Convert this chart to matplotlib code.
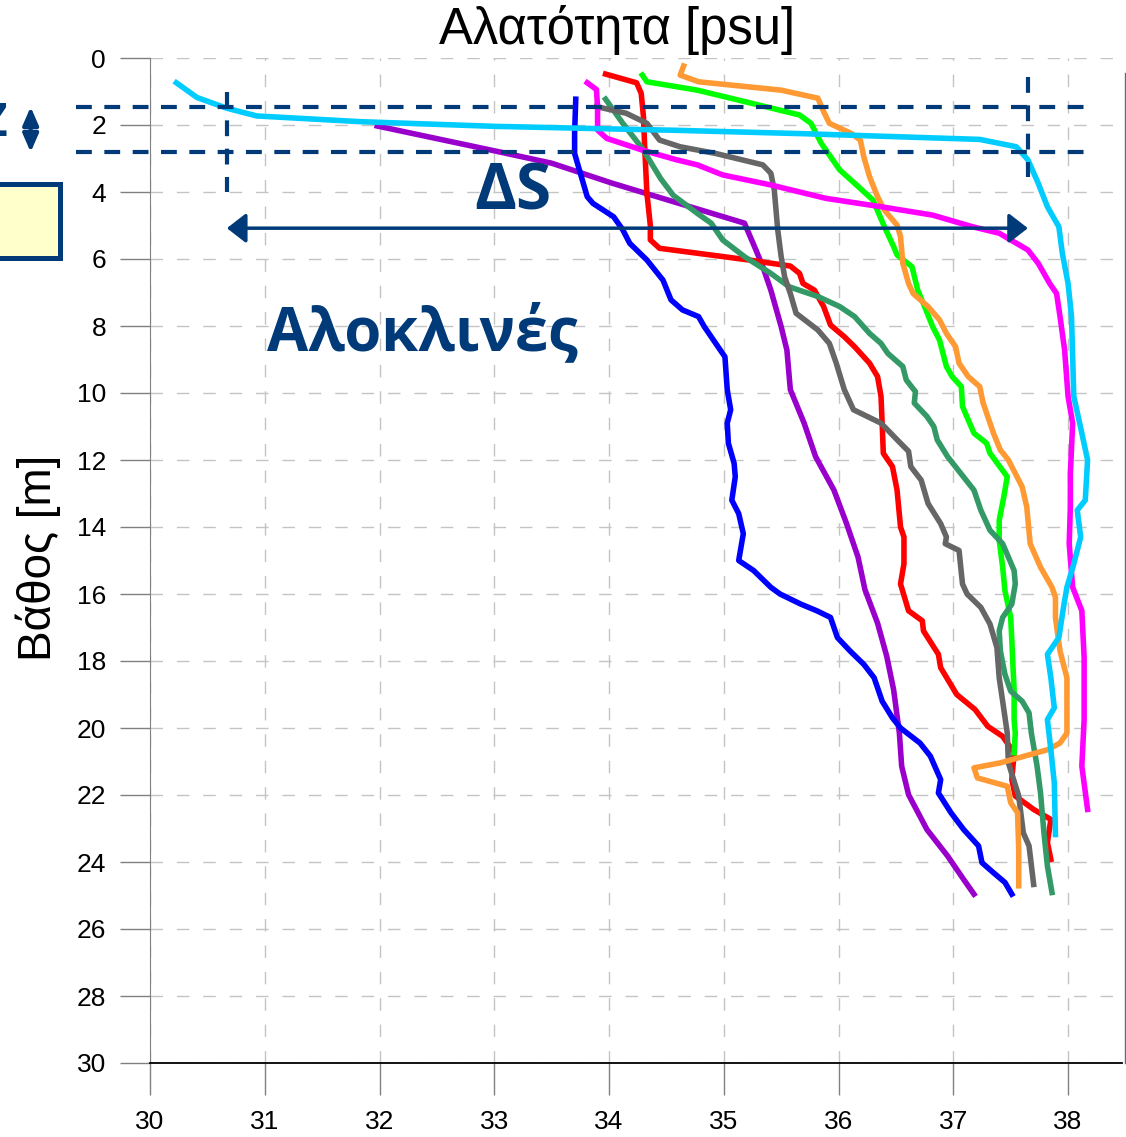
import matplotlib
matplotlib.use('Agg')
import matplotlib.pyplot as plt
from matplotlib.patches import Rectangle

plt.rcParams['font.family'] = ['Liberation Sans', 'DejaVu Sans']

# salinity [psu] / depth [m] profiles
purple_s = [31.98, 33.0, 33.5, 34.03, 34.61, 35.18, 35.28, 35.34, 35.41, 35.50, 35.55, 35.58, 35.70, 35.80, 35.96,
            36.07, 36.17, 36.23, 36.34, 36.42, 36.48, 36.53, 36.55, 36.61, 36.77, 36.95, 37.09, 37.18]
purple_d = [2.03, 2.77, 3.14, 3.74, 4.34, 4.93, 5.73, 6.23, 6.93, 8.02, 8.72, 9.9, 10.9, 11.9, 12.9,
            13.9, 14.9, 15.87, 16.87, 17.86, 18.86, 20.15, 21.14, 21.99, 23.03, 23.82, 24.52, 24.96]

blue_s = [33.71, 33.70, 33.70, 33.75, 33.81, 33.86, 34.04, 34.12, 34.18, 34.33, 34.40, 34.47, 34.54, 34.64, 34.78,
          34.83, 34.93, 35.01, 35.03, 35.06, 35.03, 35.04, 35.09, 35.10, 35.07, 35.13, 35.17, 35.13, 35.26, 35.41,
          35.49, 35.67, 35.81, 35.93, 35.99, 36.10, 36.22, 36.31, 36.38, 36.47, 36.54, 36.71, 36.80, 36.89, 36.87,
          36.98, 37.09, 37.22, 37.25, 37.35, 37.45, 37.51]
blue_d = [1.23, 2.25, 2.85, 3.44, 4.14, 4.34, 4.74, 5.13, 5.53, 6.03, 6.33, 6.63, 7.22, 7.52, 7.72,
          8.02, 8.52, 8.92, 9.9, 10.5, 10.9, 11.5, 12.1, 12.5, 13.2, 13.6, 14.2, 15.0, 15.3, 15.8,
          16.0, 16.3, 16.5, 16.7, 17.3, 17.7, 18.1, 18.5, 19.2, 19.7, 20.0, 20.45, 20.84, 21.54, 21.94,
          22.53, 23.03, 23.52, 24.02, 24.32, 24.61, 24.96]

red_s = [33.97, 34.24, 34.28, 34.30, 34.31, 34.33, 34.36, 34.36, 34.44, 35.22, 35.58, 35.66, 35.69, 35.79, 35.87,
         35.93, 36.05, 36.14, 36.27, 36.34, 36.37, 36.38, 36.39, 36.47, 36.51, 36.54, 36.57, 36.57, 36.54, 36.61,
         36.73, 36.74, 36.87, 36.89, 36.96, 37.03, 37.19, 37.30, 37.43, 37.53, 37.51, 37.54, 37.70, 37.85, 37.82,
         37.85]
red_d = [0.48, 0.74, 1.05, 1.75, 2.6, 4.04, 5.0, 5.43, 5.68, 6.03, 6.21, 6.43, 6.73, 6.93, 7.42,
         7.97, 8.32, 8.62, 9.11, 9.51, 10.1, 10.9, 11.8, 12.2, 12.9, 14.0, 14.3, 15.1, 15.7, 16.5,
         16.8, 17.1, 17.8, 18.2, 18.6, 19.0, 19.45, 19.95, 20.25, 20.74, 21.54, 22.03, 22.43, 22.73, 23.42,
         23.92]

green_s = [34.29, 34.33, 34.77, 35.18, 35.66, 35.76, 35.85, 36.01, 36.14, 36.30, 36.40, 36.48, 36.51, 36.64, 36.69,
           36.75, 36.82, 36.88, 36.94, 36.99, 37.07, 37.08, 37.18, 37.29, 37.32, 37.47, 37.44, 37.40, 37.40, 37.43,
           37.45, 37.50, 37.51, 37.53, 37.53, 37.54, 37.53]
green_d = [0.51, 0.71, 0.96, 1.3, 1.7, 1.95, 2.55, 3.34, 3.74, 4.24, 5.04, 5.63, 5.88, 6.23, 6.93,
           7.42, 8.02, 8.42, 9.21, 9.51, 9.81, 10.4, 11.2, 11.5, 11.8, 12.5, 13.1, 13.8, 14.4, 15.2,
           15.9, 16.7, 17.4, 18.9, 19.75, 20.15, 20.74]

seagreen_s = [33.97, 34.12, 34.29, 34.45, 34.56, 34.77, 34.89, 34.99, 35.18, 35.41, 35.57, 35.82, 36.01, 36.14, 36.27,
              36.37, 36.43, 36.56, 36.59, 36.67, 36.66, 36.77, 36.83, 36.86, 36.95, 37.18, 37.24, 37.32, 37.43, 37.53,
              37.54, 37.51, 37.43, 37.40, 37.41, 37.45, 37.50, 37.60, 37.66, 37.68, 37.73, 37.76, 37.79, 37.82, 37.86]
seagreen_d = [1.23, 1.95, 2.7, 3.6, 4.1, 4.64, 4.93, 5.43, 5.93, 6.43, 6.83, 7.12, 7.42, 7.72, 8.22,
              8.52, 8.82, 9.21, 9.61, 9.96, 10.3, 10.7, 11.0, 11.4, 11.9, 12.9, 13.5, 14.1, 14.5, 15.3,
              15.7, 16.3, 16.7, 17.1, 17.7, 18.4, 18.9, 19.2, 19.55, 20.15, 21.14, 21.94, 23.13, 24.12, 24.91]

gray_s = [33.89, 34.15, 34.33, 34.44, 34.62, 34.93, 35.34, 35.41, 35.44, 35.47, 35.50, 35.53, 35.58, 35.63, 35.82,
          35.92, 35.98, 36.05, 36.13, 36.37, 36.54, 36.61, 36.63, 36.72, 36.78, 36.89, 36.94, 36.93, 37.05, 37.08,
          37.12, 37.24, 37.32, 37.38, 37.40, 37.43, 37.47, 37.48, 37.57, 37.61, 37.66, 37.70]
gray_d = [1.45, 1.65, 1.95, 2.45, 2.65, 2.85, 3.19, 3.44, 3.94, 5.13, 5.93, 6.53, 7.03, 7.62, 8.12,
          8.52, 9.11, 9.9, 10.5, 10.9, 11.5, 11.74, 12.2, 12.6, 13.3, 13.9, 14.3, 14.5, 14.7, 15.7,
          16.0, 16.4, 16.9, 17.6, 18.5, 19.2, 20.15, 21.04, 22.03, 23.13, 23.52, 24.67]

orange_s = [34.65, 34.62, 34.78, 35.50, 35.82, 35.87, 35.92, 36.11, 36.19, 36.22, 36.27, 36.34, 36.40, 36.51, 36.54,
            36.56, 36.61, 36.65, 36.78, 36.88, 36.94, 37.02, 37.05, 37.13, 37.23, 37.26, 37.35, 37.41, 37.48, 37.60,
            37.64, 37.67, 37.76, 37.86, 37.89, 37.89, 37.93, 37.99, 37.99, 37.93, 37.82, 37.41, 37.18, 37.21, 37.47,
            37.50, 37.56, 37.57, 37.57]
orange_d = [0.24, 0.51, 0.71, 0.96, 1.2, 1.6, 1.95, 2.25, 2.45, 2.95, 3.54, 4.14, 4.54, 4.99, 5.33,
            6.13, 6.73, 7.03, 7.42, 7.82, 8.22, 8.62, 9.11, 9.51, 9.81, 10.3, 11.2, 11.7, 12.0, 12.8,
            13.4, 14.5, 15.2, 15.8, 16.1, 16.7, 17.7, 18.5, 20.15, 20.45, 20.65, 21.04, 21.19, 21.49, 21.74,
            22.23, 22.53, 23.62, 24.71]

magenta_s = [33.81, 33.89, 33.90, 33.90, 33.98, 34.29, 34.59, 34.77, 34.99, 35.41, 35.89, 36.37, 36.82, 37.17, 37.40,
             37.65, 37.74, 37.84, 37.90, 37.93, 37.97, 38.00, 38.04, 38.02, 38.02, 38.01, 38.04, 38.12, 38.14, 38.14,
             38.12, 38.17]
magenta_d = [0.74, 0.94, 1.45, 2.15, 2.40, 2.75, 3.04, 3.19, 3.49, 3.79, 4.19, 4.44, 4.69, 5.04, 5.23,
             5.73, 6.13, 6.73, 7.03, 7.72, 8.72, 10.1, 10.9, 12.4, 13.4, 14.5, 15.8, 16.5, 17.9, 19.75,
             21.14, 22.43]

cyan_s = [30.23, 30.41, 30.67, 30.93, 31.83, 33.0, 34.6, 35.7, 37.23, 37.55, 37.65, 37.74, 37.82, 37.92, 37.95,
          38.00, 38.03, 38.05, 38.12, 38.17, 38.15, 38.08, 38.11, 38.05, 37.99, 37.96, 37.92, 37.82, 37.85, 37.88,
          37.82, 37.85, 37.88, 37.89]
cyan_d = [0.74, 1.18, 1.50, 1.73, 1.90, 2.04, 2.16, 2.26, 2.43, 2.65, 3.04, 3.74, 4.44, 5.04, 5.83,
          6.73, 7.72, 10.1, 11.2, 12.0, 13.2, 13.5, 14.3, 15.1, 15.8, 16.4, 17.3, 17.8, 18.5, 19.4,
          19.75, 20.65, 21.64, 23.18]

profiles = [
    (purple_s, purple_d, '#9900cc'),
    (blue_s, blue_d, '#0000ff'),
    (red_s, red_d, '#ff0000'),
    (green_s, green_d, '#00ff00'),
    (seagreen_s, seagreen_d, '#339966'),
    (gray_s, gray_d, '#666666'),
    (orange_s, orange_d, '#ff9933'),
    (magenta_s, magenta_d, '#ff00ff'),
    (cyan_s, cyan_d, '#00ccff'),
]

x_ticks = list(range(30, 39))
y_ticks = list(range(0, 31, 2))

# halocline markers
layer_top = 1.46
layer_bottom = 2.81
s_low = 30.67
s_high = 37.65
ds_depth = 5.08

navy = '#003a78'

W, H = 1126, 1137
fig = plt.figure(figsize=(W / 100, H / 100), dpi=100)
ax = fig.add_axes([150 / W, (H - 1063) / H, (1122 - 150) / W, (1063 - 58) / H])

for s, d, c in profiles:
    ax.plot(s, d, color=c, lw=4.0, solid_joinstyle='round', zorder=3)

ax.set_xlim(30, 38.47)
ax.set_ylim(30, 0)
ax.set_xticks(x_ticks)
ax.set_yticks(y_ticks)
ax.tick_params(axis='y', length=21.6, width=1, color='#808080', labelsize=19, pad=10)
ax.tick_params(axis='x', length=23, width=1, color='#808080', labelsize=19, pad=11)
ax.grid(True, color='#c4c4c4', lw=1, ls=(0, (9, 10)))
ax.set_axisbelow(True)
for side in ['top', 'right']:
    ax.spines[side].set_visible(False)
ax.spines['left'].set_color('#808080')
ax.spines['bottom'].set_color('black')
ax.spines['bottom'].set_linewidth(1.3)

# dashed layer lines
for dep in [layer_top, layer_bottom]:
    ax.plot([29.355, 38.17], [dep, dep], color=navy, lw=3, ls=(0, (3.8, 3.0)), clip_on=False, zorder=5)
ax.plot([s_low, s_low], [1.0, 4.0], color=navy, lw=3, ls=(0, (3.8, 3.0)), clip_on=False, zorder=5)
ax.plot([s_high, s_high], [0.57, 3.55], color=navy, lw=3, ls=(0, (3.8, 3.0)), clip_on=False, zorder=5)

# delta S arrow
ax.annotate('', xy=(s_low, ds_depth), xytext=(s_high, ds_depth),
            arrowprops=dict(arrowstyle='<|-|>,head_length=0.58,head_width=0.45', mutation_scale=20,
                            color=navy, lw=2.5, shrinkA=0, shrinkB=0), zorder=6)
ax.text(33.16, 4.03, 'ΔS', color=navy, fontsize=46, fontweight='bold', ha='center', va='center',
        family=['Open Sans', 'DejaVu Sans'], zorder=6)
ax.text(32.37, 8.27, 'Αλοκλινές', color=navy, fontsize=43, fontweight='bold', ha='center', va='center',
        family=['Open Sans', 'DejaVu Sans'], zorder=6)

# Z marker and box at the left edge (partly outside, as in the original)
ax.annotate('', xy=(28.96, layer_top), xytext=(28.96, layer_bottom), annotation_clip=False,
            arrowprops=dict(arrowstyle='<|-|>,head_length=1.08,head_width=0.47', mutation_scale=10,
                            color=navy, lw=3, shrinkA=0, shrinkB=0))
ax.text(28.76, 1.96, 'Z', color=navy, fontsize=33, fontweight='bold', ha='right', va='center',
        family=['Open Sans', 'DejaVu Sans'], clip_on=False)
ax.add_patch(Rectangle((27.0, 3.75), 29.22 - 27.0, 5.96 - 3.75, facecolor='#ffffcc', edgecolor=navy,
                       lw=3.6, clip_on=False, zorder=4))

fig.text(617 / W, 1 - 30 / H, 'Αλατότητα [psu]', fontsize=36.5, ha='center', va='center')
fig.text(38 / W, 1 - 558 / H, 'Βάθος [m]', fontsize=33, rotation=90, ha='center', va='center')

# thin border of the neighbouring element at the right edge
fig.add_artist(plt.Line2D([1125 / W, 1125 / W], [1 - 73 / H, 1 - 1063 / H], color='#5a6b8c', lw=1))

fig.savefig('out.png', dpi=100)
